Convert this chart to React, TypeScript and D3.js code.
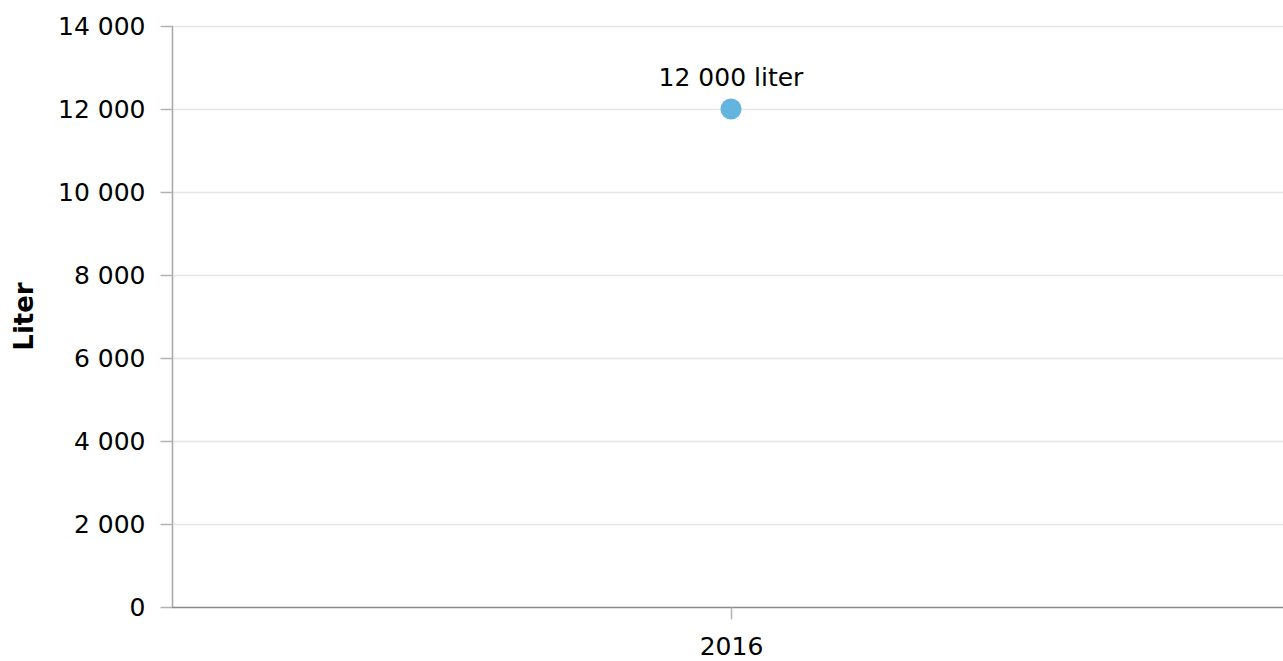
import { useEffect, useRef } from "react";
import * as d3 from "d3";

const W = 1283;
const H = 661;

const years = ["2016"];
const values = [12000];
const yTicks = [0, 2000, 4000, 6000, 8000, 10000, 12000, 14000];
const unit = "liter";
const yTitle = "Liter";

const margin = { top: 26, right: 0, bottom: 54, left: 172 };
const FONT = "'DejaVu Sans', Verdana, sans-serif";

const fmt = (v: number) => d3.format(",")(v).replace(/,/g, " ");

export default function App() {
  const ref = useRef<SVGSVGElement>(null);

  useEffect(() => {
    const svg = d3.select(ref.current);
    svg.selectAll("*").remove();

    const y = d3
      .scaleLinear()
      .domain([0, 14000])
      .range([H - margin.bottom, margin.top]);
    const x = d3
      .scalePoint()
      .domain(years)
      .range([margin.left, W + 7])
      .padding(0.5);

    // gridlines
    svg
      .append("g")
      .selectAll("line")
      .data(yTicks.slice(1))
      .join("line")
      .attr("x1", margin.left)
      .attr("x2", W)
      .attr("y1", (d) => y(d) + 0.5)
      .attr("y2", (d) => y(d) + 0.5)
      .style("stroke", "#e6e6e6")
      .style("stroke-width", 1.5);

    // y axis
    const ya = svg
      .append("g")
      .attr("transform", `translate(${margin.left + 0.5},0)`)
      .call(
        d3
          .axisLeft(y)
          .tickValues(yTicks)
          .tickSize(12)
          .tickPadding(15)
          .tickFormat((d) => fmt(d as number))
      );
    ya.select(".domain").style("stroke", "#a6a6a6").style("stroke-width", 1.5)
      .attr("d", `M0,${y(0)}V${y(14000)}`);
    ya.selectAll(".tick line").style("stroke", "#b3b3b3").style("stroke-width", 1.5);
    ya.selectAll(".tick text")
      .style("font-family", FONT)
      .style("font-size", "25px")
      .style("fill", "#000");

    // x axis
    const xa = svg
      .append("g")
      .attr("transform", `translate(0,${y(0) + 0.5})`)
      .call(d3.axisBottom(x).tickSize(12).tickPadding(18));
    xa.select(".domain").style("stroke", "#8a8a8a").style("stroke-width", 1.5)
      .attr("d", `M${margin.left},0H${W}`);
    xa.selectAll(".tick line").style("stroke", "#b3b3b3").style("stroke-width", 1.5);
    xa.selectAll(".tick text")
      .style("font-family", FONT)
      .style("font-size", "25px")
      .style("fill", "#000");

    // y title
    svg
      .append("text")
      .attr("transform", `translate(33,${(y(0) + y(14000)) / 2}) rotate(-90)`)
      .attr("text-anchor", "middle")
      .style("font-family", FONT)
      .style("font-size", "26px")
      .style("font-weight", "bold")
      .text(yTitle);

    // points
    const pts = svg
      .append("g")
      .selectAll("g")
      .data(values)
      .join("g");
    pts
      .append("circle")
      .attr("cx", (_, i) => x(years[i]) as number)
      .attr("cy", (d) => y(d))
      .attr("r", 10.5)
      .style("fill", "#63b4de");
    pts
      .append("text")
      .attr("x", (_, i) => x(years[i]) as number)
      .attr("y", (d) => y(d) - 23)
      .attr("text-anchor", "middle")
      .style("font-family", FONT)
      .style("font-size", "25px")
      .style("fill", "#000")
      .text((d) => `${fmt(d)} ${unit}`);
  }, []);

  return (
    <svg
      ref={ref}
      width={W}
      height={H}
      style={{ position: "absolute", left: 0, top: 0, background: "#fff" }}
    />
  );
}
